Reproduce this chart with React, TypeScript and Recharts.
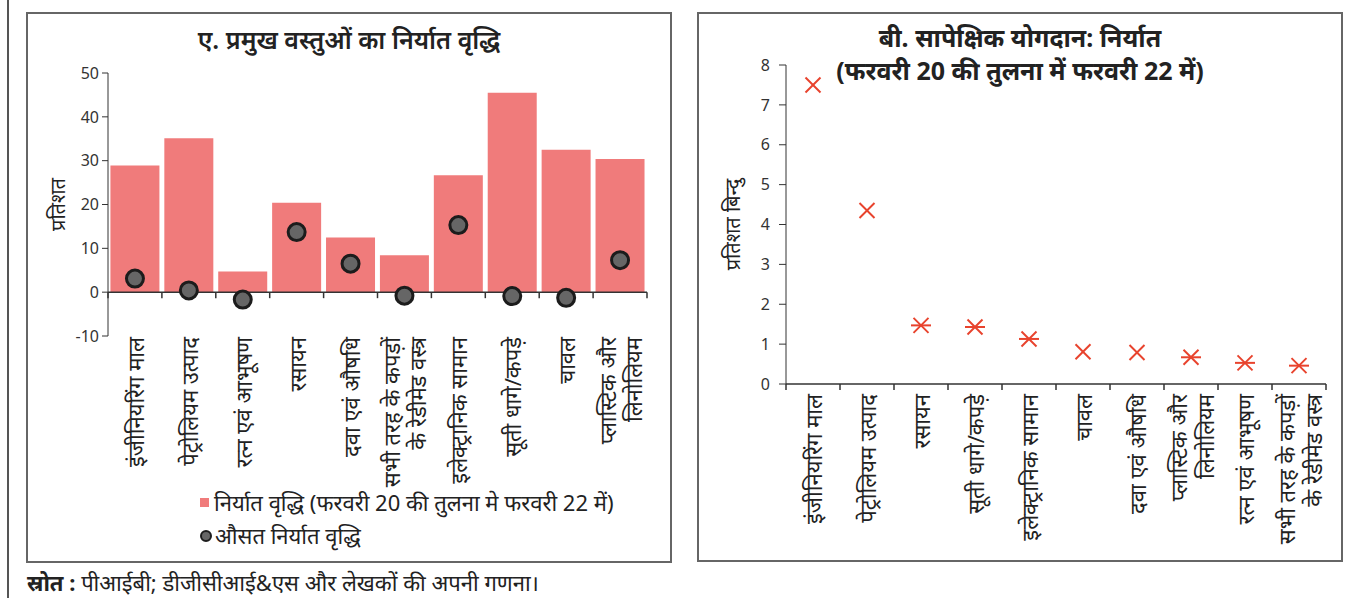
import { Bar, ComposedChart, Label, Legend, ReferenceLine, Scatter, XAxis, YAxis } from "recharts"

// Panel A: export growth of principal commodities
const growthCategories = [
  "इंजीनियरिंग माल",
  "पेट्रोलियम उत्पाद",
  "रत्न एवं आभूषण",
  "रसायन",
  "दवा एवं औषधि",
  "सभी तरह के कपड़ों\nके रेडीमेड वस्त्र",
  "इलेक्ट्रानिक सामान",
  "सूती धागे/कपड़े",
  "चावल",
  "प्लास्टिक और\nलिनोलियम",
]
const exportGrowth = [28.9, 35.1, 4.7, 20.4, 12.5, 8.4, 26.7, 45.5, 32.5, 30.4]
const averageGrowth = [3.1, 0.4, -1.7, 13.7, 6.5, -0.8, 15.3, -0.9, -1.3, 7.3]
const growthTicks = [-10, 0, 10, 20, 30, 40, 50]

// Panel B: relative contribution, percentage points
const contributionCategories = [
  "इंजीनियरिंग माल",
  "पेट्रोलियम उत्पाद",
  "रसायन",
  "सूती धागे/कपड़े",
  "इलेक्ट्रानिक सामान",
  "चावल",
  "दवा एवं औषधि",
  "प्लास्टिक और\nलिनोलियम",
  "रत्न एवं आभूषण",
  "सभी तरह के कपड़ों\nके रेडीमेड वस्त्र",
]
const contributionPoints = [7.5, 4.35, 1.47, 1.43, 1.13, 0.81, 0.79, 0.67, 0.53, 0.46]
const contributionTicks = [0, 1, 2, 3, 4, 5, 6, 7, 8]

// categories drawn with the starred cross instead of a plain one
const starMarked = [
  "रसायन",
  "सूती धागे/कपड़े",
  "इलेक्ट्रानिक सामान",
  "प्लास्टिक और\nलिनोलियम",
  "रत्न एवं आभूषण",
  "सभी तरह के कपड़ों\nके रेडीमेड वस्त्र",
]

const growthData = growthCategories.map((name, i) => ({
  name,
  growth: exportGrowth[i],
  average: averageGrowth[i],
}))
const contributionData = contributionCategories.map((name, i) => ({
  name,
  points: contributionPoints[i],
}))

const FONT = "'Noto Sans', 'DejaVu Sans', sans-serif"
const AXIS = "#333"
const BAR = "#F07B7B"
const DOT = "#666"
const CROSS = "#E8432D"

function categoryTick(gap: number, lineStep: number) {
  return function CategoryTick(props: any) {
    const { x, y, payload } = props
    const lines = String(payload.value).split("\n")
    return (
      <g>
        {lines.map((line, i) => {
          const lx = x + (i - (lines.length - 1) / 2) * lineStep
          const ty = y + gap
          return (
            <text
              key={i}
              x={lx}
              y={ty}
              transform={`rotate(-90 ${lx} ${ty})`}
              textAnchor="end"
              dominantBaseline="central"
              fontSize={22}
              fontFamily={FONT}
              fill="#222"
            >
              {line}
            </text>
          )
        })}
      </g>
    )
  }
}

// axis line with tick marks on the category boundaries
function bandAxisLine(count: number) {
  return function BandLine(p: any) {
    const step = (p.x2 - p.x1) / count
    return (
      <g stroke={AXIS} strokeWidth={1.5}>
        <line x1={p.x1} y1={p.y1} x2={p.x2} y2={p.y2} />
        {Array.from({ length: count + 1 }, (_, i) => (
          <line key={i} x1={p.x1 + i * step} x2={p.x1 + i * step} y1={p.y1} y2={p.y1 + 6} />
        ))}
      </g>
    )
  }
}

function sideTitle(text: string, dx: number) {
  return function SideTitle({ viewBox }: any) {
    const x = viewBox.x + dx
    const y = viewBox.y + viewBox.height / 2
    return (
      <text
        x={x}
        y={y}
        transform={`rotate(-90 ${x} ${y})`}
        textAnchor="middle"
        dominantBaseline="central"
        fontSize={20}
        fontFamily={FONT}
        fill="#222"
      >
        {text}
      </text>
    )
  }
}

function AverageDot(props: any) {
  const { cx, cy } = props
  return <circle cx={cx} cy={cy} r={8.5} fill={DOT} stroke="#1c1c1c" strokeWidth={3} />
}

function CrossMark(props: any) {
  const { cx, cy, payload } = props
  const s = 7.5
  const star = starMarked.includes(payload.name)
  return (
    <g stroke={CROSS} strokeWidth={2}>
      <line x1={cx - s} y1={cy - s} x2={cx + s} y2={cy + s} />
      <line x1={cx - s} y1={cy + s} x2={cx + s} y2={cy - s} />
      {star && <line x1={cx - 10} y1={cy} x2={cx + 10} y2={cy} />}
    </g>
  )
}

function GrowthLegend(props: any) {
  // bars first, then the average dots
  const items = [...(props.payload ?? [])].sort(
    (a: any, b: any) => Number(a.type === "circle") - Number(b.type === "circle"),
  )
  return (
    <div style={{ fontFamily: FONT, fontSize: 22, color: "#222", lineHeight: "33px" }}>
      {items.map((item: any) => (
        <div key={item.value} style={{ display: "flex", alignItems: "center", whiteSpace: "nowrap" }}>
          {item.type === "circle" ? (
            <span
              style={{
                width: 8,
                height: 8,
                borderRadius: "50%",
                background: DOT,
                border: "2px solid #1c1c1c",
                marginRight: 3,
              }}
            />
          ) : (
            <span style={{ width: 9, height: 9, background: BAR, marginRight: 5 }} />
          )}
          {item.value}
        </div>
      ))}
    </div>
  )
}

export default function App() {
  return (
    <div
      style={{
        position: "relative",
        width: 1350,
        height: 598,
        background: "#fff",
        fontFamily: FONT,
        overflow: "hidden",
      }}
    >
      <style>{"body{margin:0}"}</style>
      <div style={{ position: "absolute", left: 7, top: 0, width: 2, height: 598, background: "#555" }} />
      <div
        style={{
          position: "absolute",
          left: 26,
          top: 12,
          width: 642,
          height: 547,
          border: "2px solid #666",
        }}
      />
      <div
        style={{
          position: "absolute",
          left: 697,
          top: 12,
          width: 642,
          height: 546,
          border: "2px solid #666",
        }}
      />

      <div
        style={{
          position: "absolute",
          left: 26,
          width: 646,
          top: 23,
          textAlign: "center",
          fontSize: 25,
          fontWeight: 600,
          color: "#222",
          lineHeight: "33px",
        }}
      >
        ए. प्रमुख वस्तुओं का निर्यात वृद्धि
      </div>
      <div
        style={{
          position: "absolute",
          left: 697,
          width: 646,
          top: 21,
          textAlign: "center",
          fontSize: 25,
          fontWeight: 700,
          color: "#222",
          lineHeight: "33px",
        }}
      >
        बी. सापेक्षिक योगदान: निर्यात
        <br />
        (फरवरी 20 की तुलना में फरवरी 22 में)
      </div>

      <div style={{ position: "absolute", left: 0, top: 0 }}>
        <ComposedChart
          width={680}
          height={598}
          data={growthData}
          margin={{ top: 73, right: 33, bottom: 102, left: 58 }}
          barCategoryGap="4.5%"
        >
          <XAxis
            dataKey="name"
            height={160}
            axisLine={false}
            tickLine={false}
            tickSize={0}
            tickMargin={0}
            interval={0}
            tick={categoryTick(1, 26)}
          />
          <YAxis
            width={50}
            domain={[-10, 50]}
            ticks={growthTicks}
            interval={0}
            stroke={AXIS}
            tickSize={6}
            tickMargin={3}
            tick={{ fill: "#333", fontSize: 16, fontFamily: FONT }}
          >
            <Label content={sideTitle("प्रतिशत", -1)} />
          </YAxis>
          <Bar
            dataKey="growth"
            name="निर्यात वृद्धि (फरवरी 20 की तुलना मे फरवरी 22 में)"
            fill={BAR}
            isAnimationActive={false}
            legendType="rect"
          />
          <ReferenceLine y={0} shape={bandAxisLine(growthCategories.length)} />
          <Scatter
            dataKey="average"
            name="औसत निर्यात वृद्धि"
            shape={AverageDot}
            isAnimationActive={false}
            legendType="circle"
          />
          <Legend
            layout="vertical"
            align="center"
            verticalAlign="middle"
            wrapperStyle={{ left: 200, top: 486, width: 470 }}
            content={GrowthLegend}
          />
        </ComposedChart>
      </div>

      <div style={{ position: "absolute", left: 680, top: 0 }}>
        <ComposedChart
          width={670}
          height={598}
          data={contributionData}
          margin={{ top: 65, right: 24, bottom: 64, left: 56 }}
        >
          <XAxis
            dataKey="name"
            scale="band"
            height={150}
            axisLine={false}
            tickLine={false}
            tickSize={0}
            tickMargin={0}
            interval={0}
            tick={categoryTick(10, 27)}
          />
          <YAxis
            width={50}
            domain={[0, 8]}
            ticks={contributionTicks}
            interval={0}
            stroke={AXIS}
            tickSize={7}
            tickMargin={9}
            tick={{ fill: "#333", fontSize: 16, fontFamily: FONT }}
          >
            <Label content={sideTitle("प्रतिशत बिन्दु", -4)} />
          </YAxis>
          <ReferenceLine y={0} shape={bandAxisLine(contributionCategories.length)} />
          <Scatter dataKey="points" shape={CrossMark} isAnimationActive={false} />
        </ComposedChart>
      </div>

      <div
        style={{
          position: "absolute",
          left: 27,
          top: 568,
          fontSize: 22,
          lineHeight: "28px",
          color: "#222",
        }}
      >
        <b>स्रोत :</b> पीआईबी; डीजीसीआई&amp;एस और लेखकों की अपनी गणना।
      </div>
    </div>
  )
}
